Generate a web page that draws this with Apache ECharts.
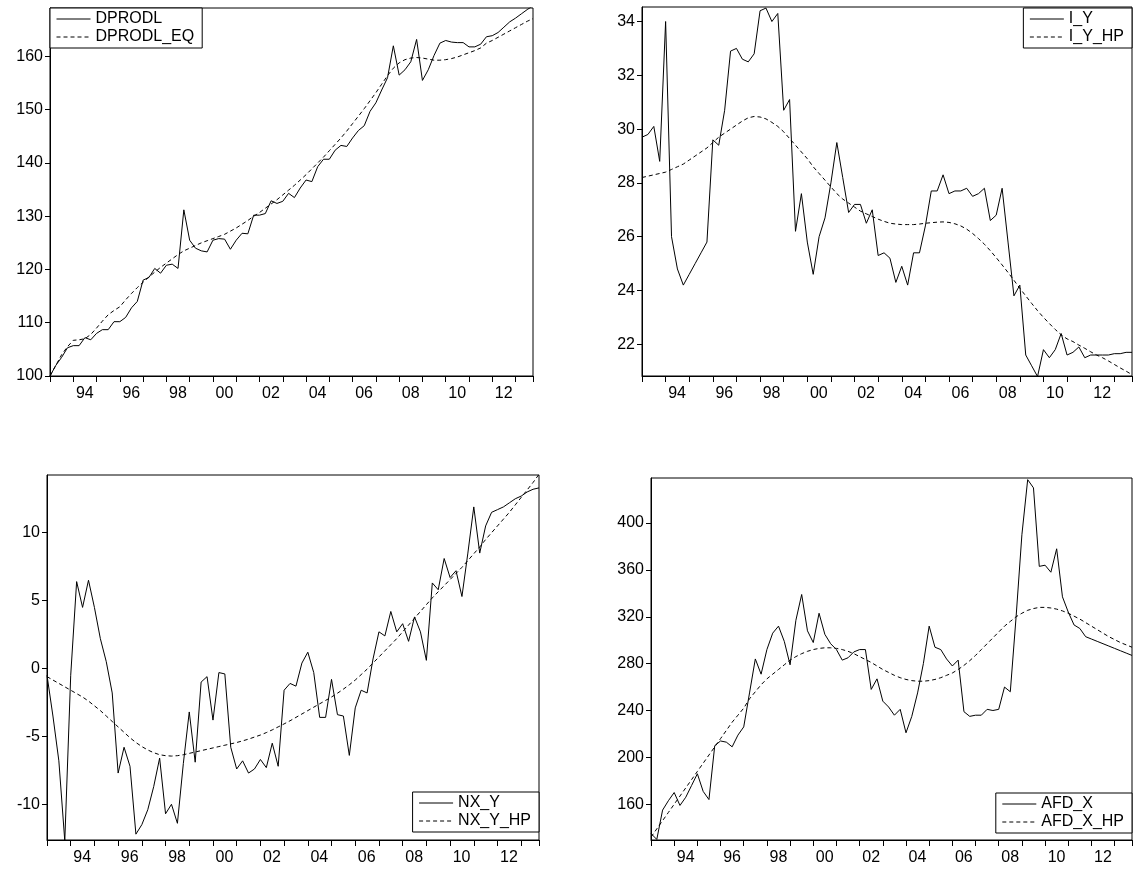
<!DOCTYPE html>
<html>
<head>
<meta charset="utf-8">
<script src="https://cdn.jsdelivr.net/npm/echarts@6/dist/echarts.min.js"></script>
<style>
html,body{margin:0;padding:0;background:#fff}
#main{width:1136px;height:869px}
</style>
</head>
<body>
<div id="main"></div>
<script>
// quarterly 1993Q1 - 2013Q4, 84 obs
var dprodl = [100,102,103.5,105.3,105.7,105.7,107.2,106.8,108,108.7,108.7,110.2,110.2,111,112.8,114,118,118.5,120.2,119.3,120.8,121,120.2,131.2,125.5,124,123.5,123.3,125.5,125.8,125.7,123.8,125.5,126.8,126.7,130.2,130.2,130.5,132.9,132.4,132.8,134.3,133.5,135.3,136.8,136.5,139.3,140.7,140.7,142.4,143.3,143.1,144.7,146.1,147,149.7,151.3,153.7,156,162,156.5,157.5,159,163.2,155.5,157.5,160.2,162.5,163,162.7,162.6,162.6,161.8,161.8,162.3,163.7,163.9,164.5,165.5,166.5,167.2,168,168.8,169.5];
var dprodlEq = [100,102,104,105.5,106.7,106.8,107,107.8,109,110.3,111.5,112.3,113,114.3,115.5,116.6,117.6,118.6,119.5,120.4,121.2,122,122.8,123.5,124,124.5,125,125.4,125.8,126.2,126.6,127.2,127.8,128.5,129.2,130,130.7,131.5,132.3,133.1,134,134.9,135.8,136.8,137.8,138.9,140,141.1,142.3,143.5,144.7,146,147.4,148.8,150.2,151.7,153.2,154.8,156.4,157.8,158.8,159.4,159.7,159.8,159.7,159.5,159.3,159.3,159.4,159.6,159.9,160.3,160.7,161.1,161.6,162.5,163,163.6,164.2,164.8,165.4,166,166.6,167.1];
var iY = [29.7,29.8,30.1,28.8,34,26,24.8,24.2,24.6,25,25.4,25.8,29.6,29.4,30.7,32.9,33,32.6,32.5,32.8,34.4,34.5,34,34.3,30.7,31.1,26.2,27.6,25.8,24.6,26,26.7,28,29.5,28.2,26.9,27.2,27.2,26.5,27,25.3,25.4,25.2,24.3,24.9,24.2,25.4,25.4,26.4,27.7,27.7,28.3,27.6,27.7,27.7,27.8,27.5,27.6,27.8,26.6,26.8,27.8,25.8,23.8,24.2,21.6,21.2,20.8,21.8,21.5,21.8,22.4,21.6,21.7,21.9,21.5,21.6,21.6,21.6,21.6,21.65,21.65,21.7,21.7];
var iYHp = [28.2,28.25,28.3,28.35,28.4,28.5,28.6,28.7,28.85,29.0,29.15,29.3,29.5,29.7,29.85,30.0,30.15,30.3,30.42,30.47,30.45,30.38,30.25,30.1,29.9,29.65,29.4,29.15,28.9,28.6,28.35,28.1,27.85,27.6,27.4,27.25,27.1,26.95,26.85,26.75,26.65,26.57,26.5,26.47,26.45,26.45,26.45,26.47,26.5,26.52,26.54,26.55,26.53,26.48,26.4,26.28,26.12,25.93,25.72,25.48,25.22,24.95,24.67,24.38,24.08,23.8,23.52,23.25,23.0,22.77,22.55,22.35,22.2,22.1,21.97,21.85,21.72,21.6,21.5,21.38,21.25,21.12,21.0,20.87];
var nxY = [-0.5,-3.5,-6.8,-12.7,-0.5,6.4,4.5,6.5,4.5,2.2,0.5,-1.8,-7.7,-5.8,-7.2,-12.2,-11.5,-10.4,-8.7,-6.6,-10.7,-10,-11.4,-7,-3.2,-6.9,-1,-0.6,-3.8,-0.3,-0.4,-5.8,-7.4,-6.8,-7.7,-7.4,-6.7,-7.3,-5.5,-7.2,-1.6,-1.1,-1.3,0.4,1.2,-0.3,-3.6,-3.6,-0.8,-3.4,-3.5,-6.4,-2.9,-1.6,-1.8,0.7,2.7,2.4,4.2,2.7,3.3,2.0,3.8,2.7,0.6,6.3,5.8,8.1,6.7,7.2,5.3,8.5,11.9,8.5,10.5,11.5,11.7,11.9,12.2,12.5,12.7,13,13.2,13.3];
var nxYHp = [-0.6,-0.85,-1.1,-1.35,-1.6,-1.85,-2.1,-2.4,-2.75,-3.1,-3.5,-3.9,-4.3,-4.7,-5.1,-5.45,-5.75,-6.0,-6.2,-6.35,-6.42,-6.45,-6.42,-6.35,-6.25,-6.15,-6.05,-5.95,-5.85,-5.75,-5.65,-5.55,-5.45,-5.33,-5.2,-5.05,-4.9,-4.72,-4.52,-4.3,-4.08,-3.85,-3.6,-3.35,-3.1,-2.85,-2.6,-2.35,-2.1,-1.82,-1.52,-1.2,-0.85,-0.45,-0.05,0.4,0.85,1.3,1.75,2.2,2.7,3.2,3.7,4.2,4.7,5.2,5.65,6.1,6.55,7.0,7.45,7.95,8.45,8.95,9.5,10.0,10.5,11.0,11.5,12.05,12.6,13.15,13.7,14.3];
var afdX = [135,130,155,163,170,159,166,176,186,171,164,210,214,213,209,219,226,255,284,271,292,306,312,299,279,317,339,308,298,323,305,297,292,283,285,290,292,292,258,267,248,243,236,241,221,235,255,280,312,294,292,284,278,283,239,235,236,236,241,240,241,260,256,320,390,437,430,363,364,358,378,337,324,313,310,303,301,299,297,295,293,291,289,287];
var afdXHp = [132,139,146,153,160,167,174,181,188,195,202,209,216,223,230,236,242,250,256,262,267,271,275,279,283,286,288.5,290.5,292,293,293.5,293.5,293,292,290.5,288.5,286,283.5,281,278,275,272.5,270,268,266.5,265.5,265,265,265.5,266.5,268,270,272,275,278.5,282.5,287,292,297,302,307,312,316,320,323,325.5,327,328,328,327.5,326.5,325,323,320.5,318,315,312,309,306,303,300.5,298,296,294];

var yTicks1 = [100,110,120,130,140,150,160];
var yTicks2 = [22,24,26,28,30,32,34];
var yTicks3 = [-10,-5,0,5,10];
var yTicks4 = [160,200,240,280,320,360,400];

var FONT = 'Liberation Sans';
var grids = [
    {left:50, top:8, width:483, height:368},
    {left:642, top:7, width:490, height:369},
    {left:47, top:475, width:492, height:365},
    {left:651, top:478, width:481, height:362}
];
var yRanges = [[100,169.1,yTicks1],[20.82,34.54,yTicks2],[-12.63,14.25,yTicks3],[129.5,438.4,yTicks4]];

function pairs(arr){ return arr.map(function(v,i){ return [i,v] }) }

var option = {
    animation:false,
    backgroundColor:'#fff',
    grid: grids.map(function(g){
        return Object.assign({show:true, borderColor:'#000', borderWidth:1, backgroundColor:'#fff'}, g)
    }),
    xAxis: grids.map(function(g,i){
        return {
            type:'value', gridIndex:i, min:0, max:83, interval:4,
            axisLine:{onZero:false, lineStyle:{color:'#000', width:1}},
            axisTick:{show:true, length:6, lineStyle:{color:'#000'}},
            splitLine:{show:false},
            axisLabel:{
                color:'#000', fontFamily:FONT, fontSize:16, margin:10,
                padding:[0,0,0,23],
                formatter:function(v){
                    if(v % 8 !== 4) return ''
                    var y = (1993 + v/4) % 100
                    return (y < 10 ? '0' : '') + y
                }
            }
        }
    }),
    yAxis: yRanges.map(function(r,i){
        return {
            type:'value', gridIndex:i, min:r[0], max:r[1],
            axisLine:{show:true, onZero:false, lineStyle:{color:'#000'}},
            axisTick:{show:true, length:5, customValues:r[2], lineStyle:{color:'#000'}},
            axisLabel:{color:'#000', fontFamily:FONT, fontSize:16, margin:7, customValues:r[2]},
            splitLine:{show:false}
        }
    }),
    legend: [
        {left:50, top:8, data:['DPRODL','DPRODL_EQ']},
        {right:4, top:8, data:['I_Y','I_Y_HP']},
        {right:597, top:792, data:['NX_Y','NX_Y_HP']},
        {right:4, top:793, data:['AFD_X','AFD_X_HP']}
    ].map(function(l){
        return Object.assign({
            orient:'vertical', borderColor:'#000', borderWidth:1, borderRadius:0,
            backgroundColor:'#fff', padding:[3,8,3,6], itemGap:2, itemWidth:34, itemHeight:14,
            textStyle:{color:'#000', fontFamily:FONT, fontSize:16},
            itemStyle:{opacity:0},
            lineStyle:{width:1}
        }, l)
    }),
    series: []
};

var sets = [
    ['DPRODL', dprodl, 'DPRODL_EQ', dprodlEq],
    ['I_Y', iY, 'I_Y_HP', iYHp],
    ['NX_Y', nxY, 'NX_Y_HP', nxYHp],
    ['AFD_X', afdX, 'AFD_X_HP', afdXHp]
];
sets.forEach(function(s,i){
    option.series.push({
        name:s[0], type:'line', xAxisIndex:i, yAxisIndex:i, data:pairs(s[1]),
        symbol:'none', lineStyle:{color:'#000', width:1}, itemStyle:{color:'#000'}
    })
    option.series.push({
        name:s[2], type:'line', xAxisIndex:i, yAxisIndex:i, data:pairs(s[3]),
        symbol:'none', lineStyle:{color:'#000', width:1, type:[4,3]}, itemStyle:{color:'#000'}
    })
})

echarts.init(document.getElementById('main')).setOption(option)
</script>
</body>
</html>
